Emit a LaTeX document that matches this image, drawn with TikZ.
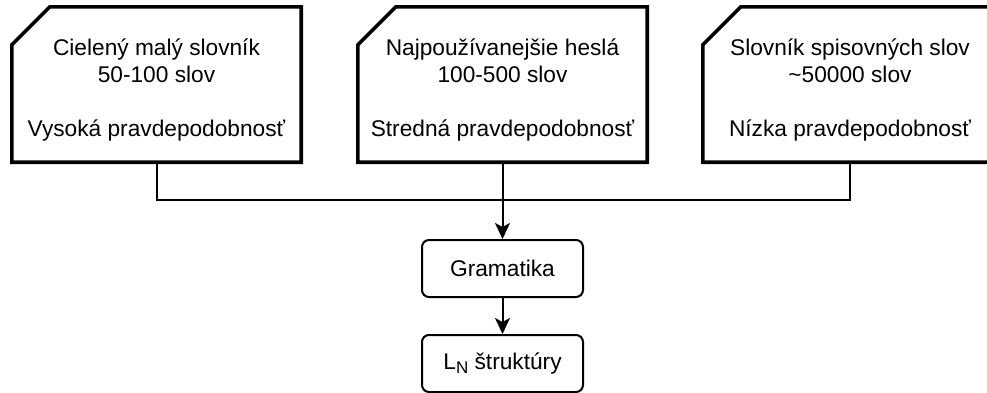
\documentclass[tikz,border=0pt]{standalone}
\usepackage{fontspec}
\setmainfont{Liberation Sans}
\usetikzlibrary{arrows.meta,calc}
\tikzset{
  card/.style={rectangle, draw=none, minimum height=155pt, inner sep=0pt},
  cardline/.style={draw=black, line width=3.6pt, fill=white, line join=miter},
  cardtext/.style={align=center, inner sep=0pt,
    font=\fontsize{22.7}{27}\selectfont},
  rbox/.style={draw=black, line width=2pt, rounded corners=7pt,
    minimum width=161pt, minimum height=57pt, inner sep=0pt,
    font=\fontsize{22.7}{27}\selectfont},
  conn/.style={draw=black, line width=2pt},
  arr/.style={conn, -{Stealth[length=16pt,width=15pt,inset=4pt]}}
}
\newcommand{\chamfercard}[1]{%
  \draw[cardline] ($(#1.north west)+(38,0)$) -- (#1.north east) -- (#1.south east)
    -- (#1.south west) -- ($(#1.north west)+(0,38)$) -- cycle;}
\begin{document}
\begin{tikzpicture}[x=1pt,y=-1pt]
\useasboundingbox (0,0) rectangle (987,392);
\fill[white] (0,0) rectangle (987,392);
% cards
\node[card, minimum width=289pt] (c1) at (156.5,84.5) {};
\node[card, minimum width=289pt] (c2) at (502.5,84.5) {};
\node[card, minimum width=294pt] (c3) at (850,84.5) {};
\chamfercard{c1}
\chamfercard{c2}
\chamfercard{c3}
\node[cardtext, yshift=-5.5pt] (t1) at (c1.center)
  {Cielený malý slovník\\50-100 slov\\[27pt]Vysoká pravdepodobnosť};
\node[cardtext, yshift=-5.5pt] (t2) at (c2.center)
  {Najpoužívanejšie heslá\\100-500 slov\\[27pt]Stredná pravdepodobnosť};
\node[cardtext, yshift=-5.5pt] (t3) at (c3.center)
  {Slovník spisovných slov\\\textasciitilde50000 slov\\[27pt]Nízka pravdepodobnosť};
% lower boxes
\node[rbox] (g) at (502.5,268.5) {Gramatika};
\node[rbox] (ln) at (502.5,363.5) {L\raisebox{-4pt}{\fontsize{17}{17}\selectfont N} štruktúry};
% connectors
\coordinate (j) at (502.5,200);
\draw[conn] (c1.south) |- (j);
\draw[conn] (c3.south) |- (j);
\draw[arr] (c2.south) -- (g.north);
\draw[arr] (g.south) -- (ln.north);
\end{tikzpicture}
\end{document}
